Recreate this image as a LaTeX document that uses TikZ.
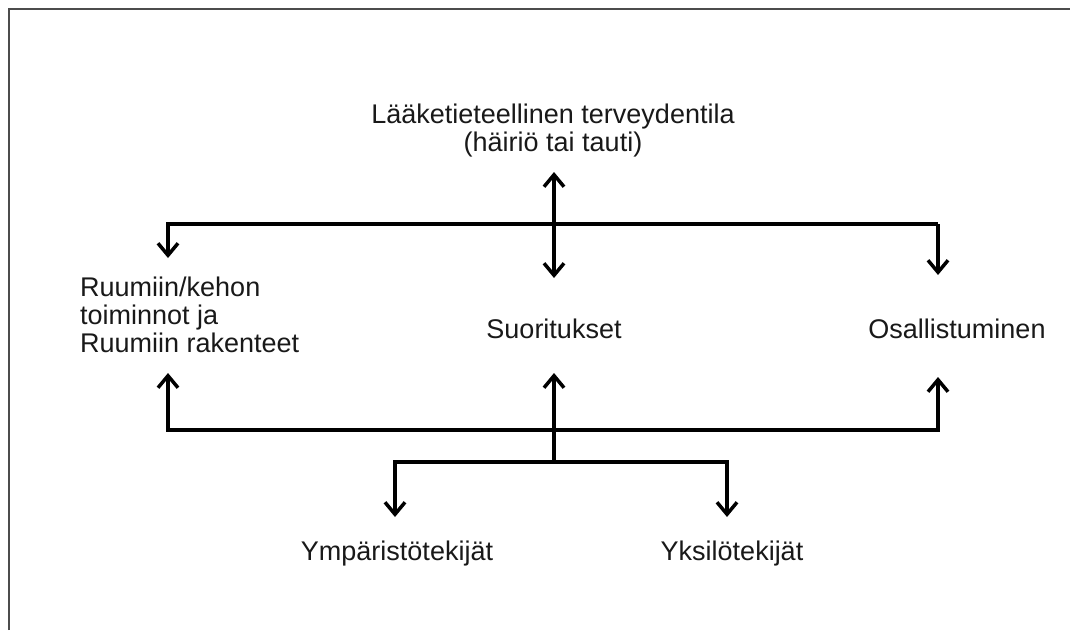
\documentclass[tikz,border=0pt]{standalone}
\usepackage{fontspec}
\setmainfont{Liberation Sans}
\usetikzlibrary{arrows.meta}
\begin{document}
\begin{tikzpicture}[x=1pt,y=-1pt,
  lbl/.style={inner sep=0pt, font=\fontsize{27}{28}\selectfont, text=black!90},
  conn/.style={line width=3.5pt, black},
  tip/.style={-{Straight Barb[length=12pt,width=20pt,line width=3.5pt]}},
  dtip/.style={{Straight Barb[length=12pt,width=20pt,line width=3.5pt]}-{Straight Barb[length=12pt,width=20pt,line width=3.5pt]}},
  frame/.style={line width=2.5pt, black!70}]
\useasboundingbox (0,0) rectangle (1070,630);
\fill[white] (0,0) rectangle (1070,630);
\draw[frame] (9,630) -- (9,9) -- (1070,9);

\node[lbl, align=center] (title) at (553,131) {Lääketieteellinen terveydentila\\(häiriö tai tauti)};
\node[lbl, align=left, anchor=west] (body) at (80,315) {Ruumiin/kehon\\toiminnot ja\\Ruumiin rakenteet};
\node[lbl] (perf) at (554,329) {Suoritukset};
\node[lbl] (part) at (957,329) {Osallistuminen};
\node[lbl] (env) at (397,554) {Ympäristötekijät};
\node[lbl] (pers) at (732,554) {Yksilötekijät};

% junction and end coordinates
\coordinate (tl) at (168,224);
\coordinate (tr) at (938,224);
\coordinate (bl) at (168,430);
\coordinate (br) at (938,430);
\coordinate (cb) at (554,462);
\coordinate (el) at (395,462);
\coordinate (er) at (727,462);

\coordinate (titleEnd) at (554,172);
\coordinate (perfTop) at (554,278);
\coordinate (bodyTop) at (168,258);
\coordinate (partTop) at (938,275);
\coordinate (bodyBot) at (168,373);
\coordinate (partBot) at (938,377);
\coordinate (perfBot) at (554,373);
\coordinate (envTop) at (395,517);
\coordinate (persTop) at (727,517);

\draw[conn, dtip] (titleEnd) -- (perfTop);
\draw[conn, tip] (tr) -- (tl) -- (bodyTop);
\draw[conn, tip] (tr) -- (partTop);
\draw[conn, tip] (br) -- (bl) -- (bodyBot);
\draw[conn, tip] (bl) -- (br) -- (partBot);
\draw[conn, tip] (cb) -- (perfBot);
\draw[conn, tip] (er) -- (el) -- (envTop);
\draw[conn, tip] (el) -- (er) -- (persTop);
\end{tikzpicture}
\end{document}
